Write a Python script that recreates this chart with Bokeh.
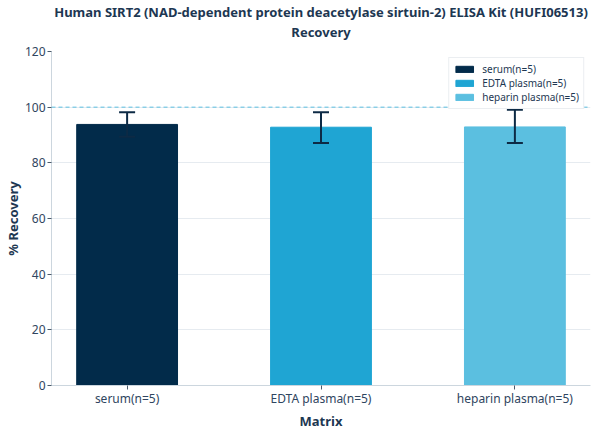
from bokeh.plotting import figure
from bokeh.models import ColumnDataSource, Whisker, Span, Legend, LegendItem, FixedTicker, Range1d, Title
from bokeh.embed import file_html
from bokeh.resources import INLINE

categories = ["serum(n=5)", "EDTA plasma(n=5)", "heparin plasma(n=5)"]
recovery = [93.8, 92.8, 92.9]
err_upper = [98.2, 98.2, 99.1]
err_lower = [89.4, 87.1, 87.1]
colors = ["#022b4a", "#1fa5d3", "#5bbfe0"]
yticks = [0, 20, 40, 60, 80, 100, 120]
title_lines = ["Human SIRT2 (NAD-dependent protein deacetylase sirtuin-2) ELISA Kit (HUFI06513)",
               "Recovery"]
x_title = "Matrix"
y_title = "% Recovery"

FONT = "Noto Sans"
TXT = "#1d3752"

p = figure(width=592, height=429, output_backend="svg", toolbar_location=None,
           x_range=Range1d(-0.39, 2.39), y_range=Range1d(0, 120),
           min_border_left=44, min_border_right=2, min_border_top=47, min_border_bottom=0,
           title=None)

# small spacer between the title and the plot area
p.add_layout(Title(text=" ", text_font=FONT, text_font_size="7px", standoff=0, offset=0), "above")
for line in reversed(title_lines):
    t = Title(text=line, align="center", text_font=FONT, text_font_size="13px",
              text_font_style="bold", text_color=TXT, standoff=0, offset=-9)
    p.add_layout(t, "above")

xs = list(range(len(categories)))
src = ColumnDataSource(dict(x=xs, top=recovery, upper=err_upper, lower=err_lower))

items = []
for i in xs:
    r = p.vbar(x=[xs[i]], top=[recovery[i]], width=0.52, fill_color=colors[i],
               line_color=colors[i])
    items.append(LegendItem(label=categories[i], renderers=[r]))

w = Whisker(source=src, base="x", upper="upper", lower="lower",
            line_color="#0d2a45", line_width=2, level="overlay")
for h in (w.upper_head, w.lower_head):
    h.line_color = "#0d2a45"
    h.line_width = 2
    h.size = 16
p.add_layout(w)

p.add_layout(Span(location=100, dimension="width", line_color="#5bbfe0",
                  line_dash="4 3", line_width=1))

legend = Legend(items=items, location="top_right", label_text_font=FONT,
                label_text_font_size="10px", label_text_color=TXT,
                border_line_color="#d8dde3", background_fill_alpha=1.0,
                glyph_width=22, glyph_height=8, label_height=14, label_standoff=7,
                spacing=0, padding=4, margin=6)
p.add_layout(legend)

p.xaxis.ticker = FixedTicker(ticks=xs)
p.xaxis.major_label_overrides = {i: c for i, c in enumerate(categories)}
p.yaxis.ticker = FixedTicker(ticks=yticks)

p.yaxis.axis_label = y_title
for ax in (p.xaxis, p.yaxis):
    ax.axis_label_text_font = FONT
    ax.axis_label_text_font_size = "13px"
    ax.axis_label_text_font_style = "bold"
    ax.axis_label_text_color = TXT
    ax.major_label_text_font = FONT
    ax.major_label_text_font_size = "12px"
    ax.major_label_text_color = "#2f4560"
    ax.axis_line_color = "#ccd6de"
    ax.major_tick_line_color = "#4a5a6a"
    ax.minor_tick_line_color = None
    ax.major_tick_in = 0
    ax.major_tick_out = 4
    ax.axis_label_standoff = 0
    ax.major_label_standoff = 2
p.xaxis.major_label_standoff = 0

p.add_layout(Title(text=x_title, align="center", text_font=FONT, text_font_size="13px",
                   text_font_style="bold", text_color=TXT, standoff=0, offset=0), "below")

p.xgrid.grid_line_color = None
p.ygrid.grid_line_color = "#e6ebf0"
p.outline_line_color = None

open("out.html", "w").write(file_html(p, INLINE))
